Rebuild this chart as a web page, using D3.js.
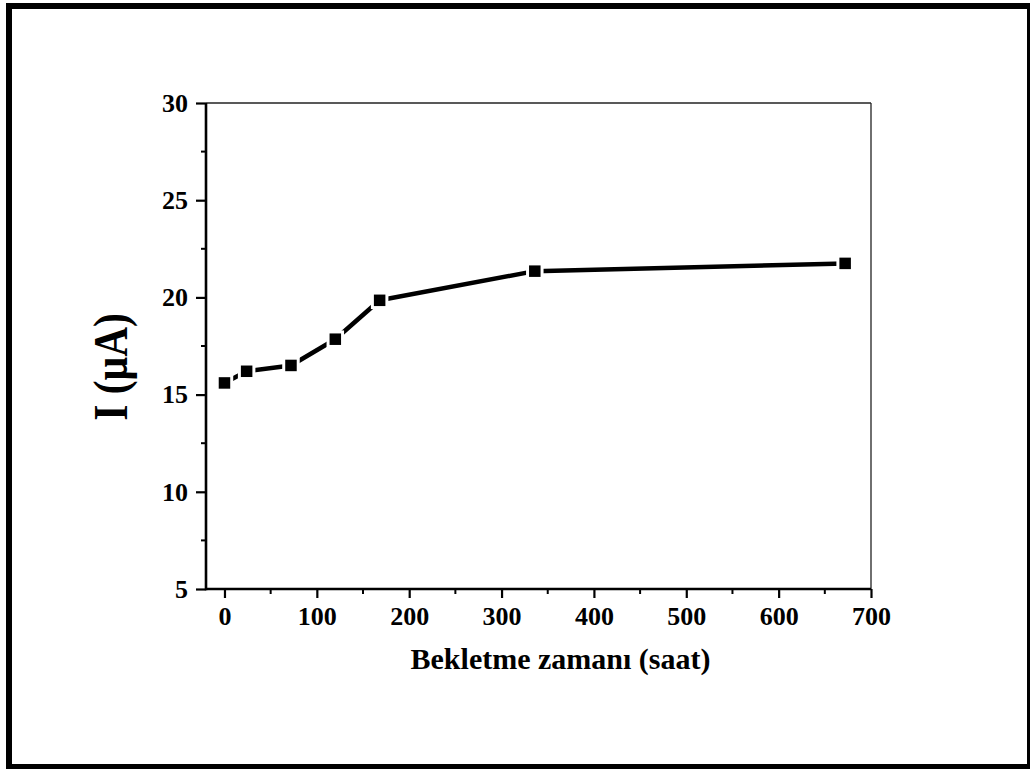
<!DOCTYPE html>
<html>
<head>
<meta charset="utf-8">
<script src="https://cdn.jsdelivr.net/npm/d3@7"></script>
<style>
  html, body { margin: 0; padding: 0; background: #fff; }
  svg { display: block; }
  text { font-family: "Liberation Serif", "Times New Roman", serif; font-weight: bold; fill: #000; }
</style>
</head>
<body>
<svg id="chart" width="1030" height="769"></svg>
<script>
// Storage time (hours) and measured current (µA)
const hours   = [0, 24, 72, 120, 168, 336, 672];
const current = [15.6, 16.2, 16.5, 17.85, 19.85, 21.35, 21.75];

const xMajorTicks = [0, 100, 200, 300, 400, 500, 600, 700];
const xMinorTicks = [50, 150, 250, 350, 450, 550, 650];
const yMajorTicks = [5, 10, 15, 20, 25, 30];
const yMinorTicks = [7.5, 12.5, 17.5, 22.5, 27.5];

const xTitle = "Bekletme zamanı (saat)";
const yTitle = "I (µA)";

const svg = d3.select("#chart");

// Frame around the whole figure
svg.append("rect")
  .attr("x", 9).attr("y", 6)
  .attr("width", 1021).attr("height", 761)
  .attr("fill", "none").attr("stroke", "#000").attr("stroke-width", 6);

const plotLeft = 206, plotRight = 871, plotTop = 103, plotBottom = 589;

const x = d3.scaleLinear().domain([-20, 700]).range([plotLeft, plotRight]);
const y = d3.scaleLinear().domain([5, 30]).range([plotBottom, plotTop]);

// Thin top and right frame lines of the plot box
svg.append("line").attr("x1", plotLeft).attr("x2", plotRight).attr("y1", plotTop).attr("y2", plotTop)
  .attr("stroke", "#222").attr("stroke-width", 1.3);
svg.append("line").attr("x1", plotRight).attr("x2", plotRight).attr("y1", plotTop).attr("y2", plotBottom)
  .attr("stroke", "#222").attr("stroke-width", 1.3);

// Minor ticks
const gMinor = svg.append("g");
gMinor.selectAll("line.xm").data(xMinorTicks).join("line")
  .attr("class", "xm")
  .attr("x1", d => x(d)).attr("x2", d => x(d))
  .attr("y1", plotBottom).attr("y2", plotBottom + 5)
  .attr("stroke", "#000").attr("stroke-width", 2);
gMinor.selectAll("line.ym").data(yMinorTicks).join("line")
  .attr("class", "ym")
  .attr("x1", plotLeft - 5).attr("x2", plotLeft)
  .attr("y1", d => y(d)).attr("y2", d => y(d))
  .attr("stroke", "#000").attr("stroke-width", 2);

// Bottom axis
const xAxis = d3.axisBottom(x).tickValues(xMajorTicks).tickSize(9).tickSizeOuter(0).tickPadding(9)
  .tickFormat(d3.format("d"));
const gx = svg.append("g").attr("transform", `translate(0,${plotBottom})`).call(xAxis);
gx.select(".domain").attr("stroke-width", 2.6).attr("d", `M${plotLeft},0H${plotRight}`);
gx.selectAll(".tick line").attr("stroke-width", 2.2);
gx.selectAll(".tick text").style("font-family", '"Liberation Serif", serif')
  .style("font-weight", "bold").style("font-size", "26px");

// Left axis
const yAxis = d3.axisLeft(y).tickValues(yMajorTicks).tickSize(10).tickSizeOuter(0).tickPadding(8)
  .tickFormat(d3.format("d"));
const gy = svg.append("g").attr("transform", `translate(${plotLeft},0)`).call(yAxis);
gy.select(".domain").attr("stroke-width", 2.6).attr("d", `M0,${plotBottom + 1.3}V${plotTop}`);
gy.selectAll(".tick line").attr("stroke-width", 2.2);
gy.selectAll(".tick text").style("font-family", '"Liberation Serif", serif')
  .style("font-weight", "bold").style("font-size", "26px");

// Axis titles
svg.append("text")
  .attr("x", (x(-20) + x(700)) / 2 + 22).attr("y", 669)
  .attr("text-anchor", "middle")
  .style("font-size", "30px")
  .text(xTitle);

svg.append("text")
  .attr("transform", "translate(127,367) rotate(-90) scale(0.86,1)")
  .attr("text-anchor", "middle")
  .style("font-size", "48px")
  .text(yTitle);

// Data line
const pts = hours.map((h, i) => [h, current[i]]);
svg.append("path")
  .datum(pts)
  .attr("fill", "none").attr("stroke", "#000").attr("stroke-width", 4.5)
  .attr("stroke-linejoin", "round")
  .attr("d", d3.line().x(d => x(d[0])).y(d => y(d[1])));

// Square markers with a white halo that opens small gaps in the line
const ms = 11.5;
svg.selectAll("rect.pt").data(pts).join("rect")
  .attr("class", "pt")
  .attr("x", d => x(d[0]) - ms / 2).attr("y", d => y(d[1]) - ms / 2)
  .attr("width", ms).attr("height", ms)
  .attr("fill", "#000").attr("stroke", "#fff").attr("stroke-width", 6)
  .attr("paint-order", "stroke");
</script>
</body>
</html>
